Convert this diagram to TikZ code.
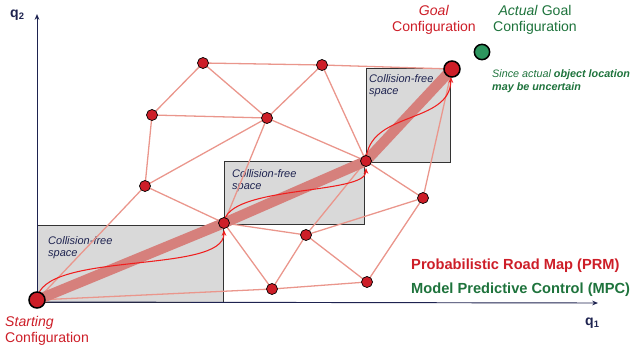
\documentclass[tikz,border=0pt]{standalone}
\usepackage{fontspec}
\setmainfont{Liberation Sans}
\usetikzlibrary{arrows.meta}
\definecolor{prmred}{RGB}{205,30,40}
\definecolor{mpcgreen}{RGB}{30,115,60}
\definecolor{edgered}{RGB}{234,150,140}
\definecolor{bandred}{RGB}{214,128,124}
\definecolor{axisnavy}{RGB}{30,35,80}
\definecolor{freegray}{RGB}{217,217,217}
\definecolor{goalgreen}{RGB}{45,150,95}
\definecolor{curvered}{RGB}{240,30,30}
\tikzset{
  vertex/.style={circle,draw=black,fill=prmred,line width=0.6pt,minimum size=0.33cm,inner sep=0pt},
  bigvertex/.style={vertex,minimum size=0.48cm,line width=1.3pt},
  roadedge/.style={draw=edgered,line width=1.1pt},
  freebox/.style={draw=black!80,fill=freegray,line width=0.7pt},
  freelabel/.style={font=\fontsize{9.4}{10.8}\selectfont\itshape,text=axisnavy,align=left,anchor=north west,inner sep=0pt},
  biglabel/.style={font=\fontsize{12}{14}\selectfont,inner sep=0pt},
  mpccurve/.style={draw=curvered,line width=0.9pt,-{Stealth[length=5pt,width=4pt]}}
}
\begin{document}
\begin{tikzpicture}[x=0.03cm,y=-0.03cm]
\useasboundingbox (0,0) rectangle (633,354);

% free space
\draw[freebox] (37,225) rectangle (223,302);
\draw[freebox] (224,161) rectangle (364,224);
\draw[freebox] (366,68) rectangle (450,162);
\node[freelabel] (free1) at (48,236) {Collision-free\\space};
\node[freelabel] (free2) at (232,169) {Collision-free\\space};
\node[freelabel] (free3) at (369,74) {Collision-free\\space};

% axes
\coordinate (o) at (37,302);
\coordinate (xend) at (598,303);
\coordinate (yend) at (37,14);
\draw[axisnavy,line width=0.8pt,-{Stealth[length=5pt,width=4pt]}] (o) -- (xend);
\draw[axisnavy,line width=0.8pt,-{Stealth[length=5pt,width=4pt]}] (o) -- (yend);
\node[anchor=base west,inner sep=0pt,text=axisnavy,font=\fontsize{12}{14}\selectfont\bfseries] (q2) at (10,17) {q\textsubscript{2}};
\node[anchor=base west,inner sep=0pt,text=axisnavy,font=\fontsize{12}{14}\selectfont\bfseries] (q1) at (585,325) {q\textsubscript{1}};

% roadmap vertices
\coordinate (S) at (37,300);
\coordinate (T) at (452,69);
\coordinate (A) at (203,63);
\coordinate (B) at (322,65);
\coordinate (C) at (152,115);
\coordinate (D) at (267,118);
\coordinate (E) at (145,186);
\coordinate (F) at (224,223);
\coordinate (G) at (366,161);
\coordinate (H) at (306,235);
\coordinate (I) at (423,198);
\coordinate (J) at (272,289);
\coordinate (K) at (367,282);

\foreach \a/\b in {S/E,S/J,J/K,A/B,A/C,A/D,B/D,C/D,C/E,B/T,B/G,D/E,D/F,D/G,E/F,F/H,F/J,G/H,G/I,H/I,H/J,H/K,I/K,I/T}
  \draw[roadedge] (\a) -- (\b);

% planned path
\draw[bandred,line width=0.31cm] (S) -- (F) -- (G) -- (T);

% mpc corrections
\draw[mpccurve] (S) .. controls (40,250) and (224,275) .. (224,230);
\draw[mpccurve] (F) .. controls (226,185) and (366,195) .. (366,168);
\draw[mpccurve] (G) .. controls (368,110) and (450,125) .. (451,77);

\foreach \v in {A,B,C,D,E,F,G,H,I,J,K}
  \node[vertex] (n\v) at (\v) {};
\node[bigvertex] (start) at (S) {};
\node[bigvertex] (goal) at (T) {};
\node[circle,draw=black,fill=goalgreen,line width=1.3pt,minimum size=0.46cm,inner sep=0pt] (actual) at (482,52) {};

% labels
\node[biglabel,text=prmred,align=left,anchor=north west] (startlbl) at (5,316) {\textit{Starting}\\Configuration};
\node[biglabel,text=prmred,align=center,anchor=north] (goallbl) at (434,5) {\textit{Goal}\\Configuration};
\node[biglabel,text=mpcgreen,align=center,anchor=north] (actuallbl) at (535,5) {\textit{Actual} Goal\\Configuration};
\node[anchor=north west,inner sep=0pt,align=left,text=mpcgreen,font=\fontsize{9.2}{11.2}\selectfont\itshape] (note) at (492,69) {Since actual \textbf{object location}\\\textbf{may be uncertain}};
\node[anchor=base west,inner sep=0pt,text=prmred,font=\fontsize{12.5}{14}\selectfont\bfseries] (prm) at (411,269) {Probabilistic Road Map (PRM)};
\node[anchor=base west,inner sep=0pt,text=mpcgreen,font=\fontsize{12.5}{14}\selectfont\bfseries] (mpc) at (411,293) {Model Predictive Control (MPC)};
\end{tikzpicture}
\end{document}
